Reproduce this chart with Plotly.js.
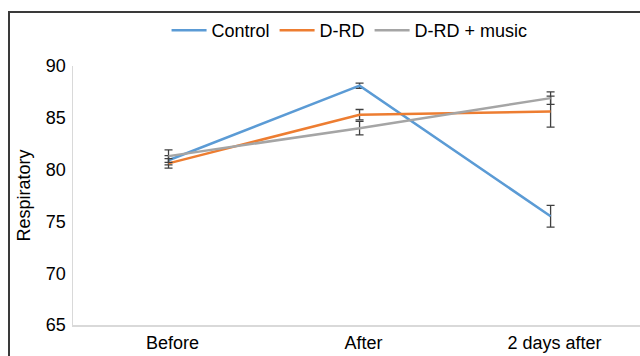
<!DOCTYPE html>
<html>
<head>
<meta charset="utf-8">
<script src="https://cdn.plot.ly/plotly-3.0.1.min.js"></script>
<style>
  html, body { margin: 0; padding: 0; background: #fff; overflow: hidden; }
  #frame { position: absolute; left: 8px; top: 11px; width: 700px; height: 400px;
           border-left: 2px solid #3a3a3a; border-top: 2px solid #3a3a3a; pointer-events: none; }
  #chart { position: absolute; left: 0; top: 0; width: 640px; height: 356px; }
</style>
</head>
<body>
<div id="chart"></div>
<div id="frame"></div>
<script>
const categories = ["Before", "After", "2 days after"];
const seriesNames = ["Control", "D-RD", "D-RD + music"];
const controlValues = [80.9, 88.1, 75.5];
const controlErrors = [0.45, 0.25, 1.05];
const drdValues = [80.6, 85.3, 85.6];
const drdErrors = [0.45, 0.5, 1.5];
const musicValues = [81.3, 84.0, 86.9];
const musicErrors = [0.6, 0.65, 0.6];
const yTicks = [65, 70, 75, 80, 85, 90];

const colors = ["#5B9BD5", "#ED7D31", "#A5A5A5"];
const vals = [controlValues, drdValues, musicValues];
const errs = [controlErrors, drdErrors, musicErrors];

const traces = seriesNames.map((name, i) => ({
  type: "scatter",
  mode: "lines",
  name: name,
  x: categories,
  y: vals[i],
  line: { color: colors[i], width: 2.5 },
  error_y: { type: "data", array: errs[i], visible: true, color: "#404040", thickness: 1.3, width: 4 }
}));

const font = { family: "Liberation Sans, Arial, sans-serif", size: 18, color: "#000" };

const layout = {
  width: 640, height: 356,
  margin: { l: 73, r: 0, t: 65.5, b: 31, pad: 0 },
  paper_bgcolor: "rgba(0,0,0,0)",
  plot_bgcolor: "rgba(0,0,0,0)",
  font: font,
  showlegend: true,
  legend: {
    orientation: "h", x: 0.165, xanchor: "left", y: 1.137, yanchor: "middle",
    itemwidth: 35,
    font: font, bgcolor: "rgba(0,0,0,0)", traceorder: "normal"
  },
  xaxis: {
    type: "category",
    range: [-0.5, 2.468],
    showgrid: false, zeroline: false,
    showline: true, linecolor: "#D9D9D9", linewidth: 1.5,
    ticks: "", tickfont: font, ticklabelstandoff: 1, ticklabelshift: 4, fixedrange: true
  },
  yaxis: {
    range: [65, 90],
    tickvals: yTicks,
    ticktext: yTicks.map(String),
    showgrid: false, zeroline: false,
    showline: true, linecolor: "#D9D9D9", linewidth: 1.5,
    ticks: "", tickfont: font, ticklabelstandoff: 2,
    title: { text: "Respiratory", font: font, standoff: 10 },
    automargin: false, fixedrange: true
  }
};

Plotly.newPlot("chart", traces, layout, { displayModeBar: false, staticPlot: true });
</script>
</body>
</html>
